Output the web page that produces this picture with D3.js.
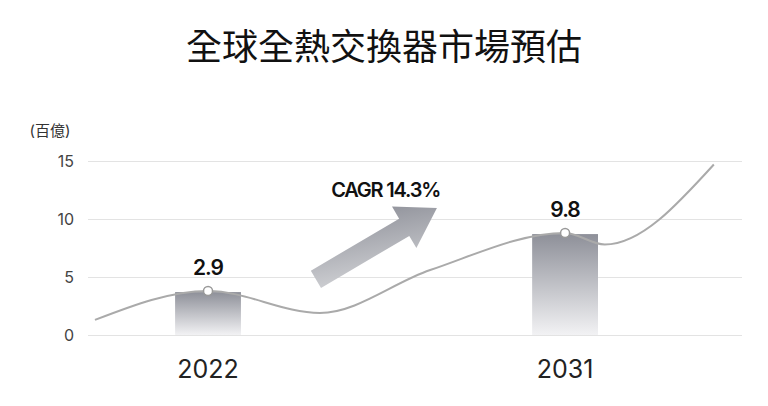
<!DOCTYPE html>
<html><head><meta charset="utf-8">
<script src="https://cdn.jsdelivr.net/npm/d3@7"></script>
<style>body{margin:0;background:#fff}</style></head>
<body><svg id="c" width="768" height="406"></svg>
<script>
const title = "全球全熱交換器市場預估";
const unitLabel = "(百億)";
const years = [2022, 2031];
const valueLabels = ["2.9", "9.8"];
const barHeights = [3.7, 8.7];
const yTicks = [0, 5, 10, 15];
const curveYears = [2019.15, 2022, 2024.82, 2027.6, 2031, 2032, 2034.75];
const curveValues = [1.3, 3.8, 1.9, 5.6, 8.8, 7.8, 14.7];
const cagrLabel = "CAGR 14.3%";

const svg = d3.select("#c");
const font = "Inter, 'Noto Sans CJK TC', sans-serif";
const x = d3.scaleLinear().domain([2019, 2035.5]).range([89, 743.6]);
const y = d3.scaleLinear().domain([0, 15]).range([335, 161]);
const yearW = x(2020) - x(2019);

const defs = svg.append("defs");
const g1 = defs.append("linearGradient").attr("id","bg").attr("x1",0).attr("y1",0).attr("x2",0).attr("y2",1);
g1.append("stop").attr("offset","0%").attr("stop-color","#8e9099");
g1.append("stop").attr("offset","100%").attr("stop-color","#f2f2f4");
const g2 = defs.append("linearGradient").attr("id","ag").attr("x1",0).attr("y1",1).attr("x2",1).attr("y2",0);
g2.append("stop").attr("offset","0%").attr("stop-color","#d6d7da");
g2.append("stop").attr("offset","100%").attr("stop-color","#8a8c95");

svg.append("text").attr("x",384).attr("y",60).attr("text-anchor","middle")
  .attr("font-family","'Noto Sans CJK TC', sans-serif").attr("font-size",36).attr("font-weight",400).attr("fill","#111").text(title);

svg.append("text").attr("x",50).attr("y",136).attr("text-anchor","middle")
  .attr("font-family",font).attr("font-size",15).attr("fill","#333").text(unitLabel);

const axis = d3.axisLeft(y).tickValues(yTicks).tickSize(-(742-88)).tickPadding(14);
const ga = svg.append("g").attr("transform","translate(88,0)").call(axis);
ga.select(".domain").remove();
ga.selectAll(".tick line").attr("stroke","#e3e3e3");
ga.selectAll(".tick text").attr("font-family",font).attr("font-size",16).attr("fill","#444");

svg.selectAll(".bar").data(years).join("rect")
  .attr("x",d=>x(d)-yearW*0.83).attr("width",yearW*1.66)
  .attr("y",(d,i)=>y(barHeights[i])).attr("height",(d,i)=>y(0)-y(barHeights[i]))
  .attr("fill","url(#bg)");

const pts = curveYears.map((d,i)=>[x(d), y(curveValues[i])]);
svg.append("path").attr("d", d3.line().curve(d3.curveMonotoneX)(pts))
  .attr("fill","none").attr("stroke","#aaa").attr("stroke-width",2);

years.forEach((yr,i)=>{
  const j = curveYears.indexOf(yr);
  svg.append("circle").attr("cx",x(yr)).attr("cy",y(curveValues[j])).attr("r",4.5)
    .attr("fill","#fff").attr("stroke","#999").attr("stroke-width",1.5);
  svg.append("text").attr("x",x(yr)).attr("y",y(curveValues[j])-16).attr("text-anchor","middle")
    .attr("font-family",font).attr("font-size",21).attr("font-weight",600).attr("letter-spacing",-1)
    .attr("fill","#111").text(valueLabels[i]);
  svg.append("text").attr("x",x(yr)).attr("y",378).attr("text-anchor","middle")
    .attr("font-family",font).attr("font-size",25).attr("fill","#222").text(yr);
});

// arrow
const ax0 = x(2024.72), ay0 = y(4.8), ax1 = x(2027.77), ay1 = y(10.95);
const ang = Math.atan2(ay1-ay0, ax1-ax0), len = Math.hypot(ax1-ax0, ay1-ay0);
const sw = 10, hw = 24, hl = 38;
const arrowShape = [[0,-sw],[len-hl,-sw],[len-hl,-hw],[len,0],[len-hl,hw],[len-hl,sw],[0,sw]];
svg.append("polygon").attr("points", arrowShape.map(p=>p.join(",")).join(" "))
  .attr("transform",`translate(${ax0},${ay0}) rotate(${ang*180/Math.PI})`)
  .attr("fill","url(#ag)");
svg.append("text").attr("x",x(2027.85)).attr("y",197).attr("text-anchor","end")
  .attr("font-family",font).attr("font-size",20).attr("font-weight",600).attr("letter-spacing",-1.2)
  .attr("fill","#111").text(cagrLabel);
</script></body></html>
